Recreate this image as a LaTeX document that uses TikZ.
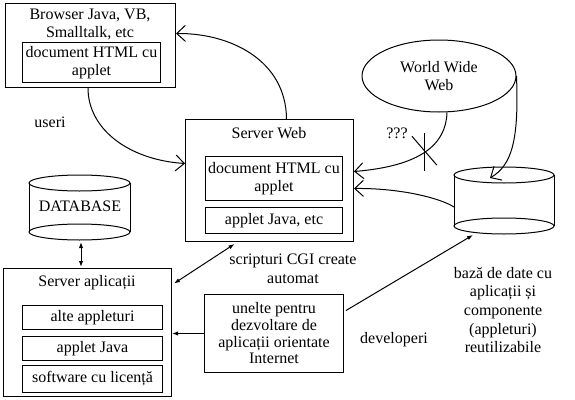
\documentclass[tikz,border=0pt]{standalone}
\usepackage{fontspec}
\setmainfont{Liberation Serif}
\usetikzlibrary{arrows.meta,calc,shapes.geometric}
\tikzset{
  box/.style={draw,rectangle,inner sep=0pt,anchor=north west,align=center},
  lbl/.style={inner sep=0pt,align=center},
  openarr/.style={-{Straight Barb[length=6.5pt,width=12pt]}},
  smallarr/.style={-{Latex[length=4.5pt,width=3.2pt]}},
  twoarr/.style={{Latex[length=4.5pt,width=3.2pt]}-{Latex[length=4.5pt,width=3.2pt]}}
}
\newcommand{\DrawDbCylinder}[5]{% name, centre x, top y, bottom y, radius x
  \draw (#2,#3) ellipse[x radius=#5,y radius=8];
  \draw (#2,#4) ellipse[x radius=#5,y radius=8];
  \draw (#2-#5,#3) -- (#2-#5,#4);
  \draw (#2+#5,#3) -- (#2+#5,#4);
  \coordinate (#1-top) at (#2,#3);
  \coordinate (#1-bot) at (#2,#4+8);
  \coordinate (#1-west) at (#2-#5,#4-19);
}
\begin{document}
\begin{tikzpicture}[x=0.75pt,y=-0.75pt,line width=0.75pt,font=\fontsize{12}{14}\selectfont]
  \useasboundingbox (0,0) rectangle (575,400);

  % browser
  \node[box,minimum width=127.5pt,minimum height=63pt] (browser) at (5,3) {};
  \node[lbl] (browsertitle) at (90,24.5) {Browser Java, VB,\\Smalltalk, etc};
  \node[box,minimum width=103.5pt,minimum height=30pt] (browserdoc) at (22,42) {document HTML cu\\applet};
  \node[lbl] (useri) at (50,122) {useri};

  % server web
  \node[box,minimum width=126pt,minimum height=91.5pt] (server) at (185,119) {};
  \node[lbl] (servertitle) at (269,133) {Server Web};
  \node[box,minimum width=102.75pt,minimum height=33pt] (serverdoc) at (205,156) {document HTML cu\\applet};
  \node[box,minimum width=102.75pt,minimum height=19.5pt] (serverjava) at (205,207) {applet Java, etc};

  % world wide web
  \node[draw,ellipse,inner sep=0pt,minimum width=115.5pt,minimum height=54pt,align=center] (www) at (439,76) {World Wide\\Web};
  \node[lbl] (qqq) at (397,133) {???};

  % databases
  \DrawDbCylinder{dbl}{79.5}{183}{232}{50.5}
  \node[lbl] (dbltext) at (80,206) {DATABASE};
  \DrawDbCylinder{dbr}{504}{175}{226}{50}

  % server aplicatii
  \node[box,minimum width=126pt,minimum height=96pt] (apps) at (3,268) {};
  \node[lbl] (appstitle) at (87,283) {Server aplicații};
  \node[box,minimum width=105pt,minimum height=18pt] (appsother) at (22,305) {alte appleturi};
  \node[box,minimum width=105pt,minimum height=18pt] (appsjava) at (22,336) {applet Java};
  \node[box,minimum width=105pt,minimum height=20.25pt] (appssoft) at (22,365) {software cu licență};

  % tools
  \node[box,minimum width=104.25pt,minimum height=58.5pt,font=\fontsize{12}{12.5}\selectfont] (tools) at (204,294) {unelte pentru\\dezvoltare de\\aplicații orientate\\Internet};
  \node[lbl] (cgi) at (293,269) {scripturi CGI create\\automat};
  \node[lbl] (dev) at (394,340) {developeri};
  \node[lbl,font=\fontsize{12}{13.9}\selectfont] (reuse) at (503,310) {bază de date cu\\aplicații și\\componente\\(appleturi)\\reutilizabile};

  % connectors
  \draw[openarr] (browser.south-|88,0) .. controls (88,130) and (130,160) .. ($(server.west)+(0,-17)$);
  \draw[openarr] ($(server.north)+(17,0)$) .. controls (286,60) and (230,33) .. ($(browser.east)+(0,-12)$);
  \draw[openarr] (www.south-|447,0) .. controls (446,145) and (420,166) .. coordinate[pos=0.5] (cut) ($(server.east)+(0,-9)$);
  \draw ($(cut)+(0,-19)$) -- ($(cut)+(0,19)$);
  \draw ($(cut)+(-13,-16)$) -- ($(cut)+(12,13)$);
  \draw[openarr] (www.east) .. controls (519,140) and (512,165) .. ($(dbr-top)+(-14,3)$);
  \draw[openarr] (dbr-west) .. controls (440,198) and (400,188) .. ($(server.east)+(0,8)$);
  \draw[twoarr] ($(dbl-bot)+(1.5,2)$) -- ($(dbl-bot |- apps.north)+(1.5,-1)$);
  \draw[twoarr] ($(server.south)+(-35,2)$) -- ($(apps.east)+(2,-49)$);
  \draw[smallarr] (tools.west) -- (tools.west -| apps.east);
  \draw[smallarr] ($(tools.east)+(2,-23)$) -- ($(dbr-bot)+(-31,1)$);
\end{tikzpicture}
\end{document}
